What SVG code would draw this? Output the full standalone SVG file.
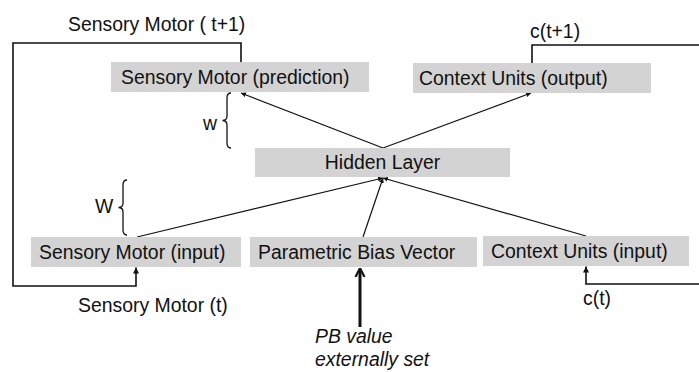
<svg xmlns="http://www.w3.org/2000/svg" width="699" height="372" viewBox="0 0 699 372">
  <style>
    .box { fill: #d3d3d3; }
    .lbl { font-family: "Liberation Sans", Arial, sans-serif; font-size: 19.4px; fill: #111; }
    .it { font-style: italic; }
    .ln { fill: none; stroke: #111; stroke-width: 1.2; }
    .loop { fill: none; stroke: #111; stroke-width: 1.6; }
    .brace { fill: none; stroke: #111; stroke-width: 1.3; }
  </style>
  <defs>
    <marker id="tip" viewBox="0 0 10 10" refX="10" refY="5" markerWidth="5" markerHeight="5" orient="auto" markerUnits="userSpaceOnUse">
      <path d="M0,0 L10,5 L0,10 z" fill="#111"/>
    </marker>
    <marker id="tipLoop" viewBox="0 0 10 10" refX="10" refY="5" markerWidth="7" markerHeight="6" orient="auto" markerUnits="userSpaceOnUse">
      <path d="M0,0 L10,5 L0,10 z" fill="#111"/>
    </marker>
    <marker id="tipBold" viewBox="0 0 10 10" refX="9" refY="5" markerWidth="9" markerHeight="13" orient="auto" markerUnits="userSpaceOnUse">
      <path d="M0,0 L10,5 L0,10" fill="none" stroke="#111" stroke-width="2.4"/>
    </marker>
  </defs>

  <!-- connectors -->
  <g id="connectors">
    <!-- hidden layer to output layers -->
    <line class="ln" x1="383" y1="148" x2="241" y2="93" marker-end="url(#tip)"/>
    <line class="ln" x1="383" y1="148" x2="531" y2="93" marker-end="url(#tip)"/>
    <!-- input layers to hidden layer -->
    <line class="ln" x1="137" y1="237" x2="383" y2="178" marker-end="url(#tip)"/>
    <line class="ln" x1="363" y1="237" x2="383" y2="178" marker-end="url(#tip)"/>
    <line class="ln" x1="586" y1="236" x2="383" y2="178" marker-end="url(#tip)"/>
    <!-- sensory motor feedback loop -->
    <polyline class="loop" points="241,62 241,43 13,43 13,286 136,286 136,267.5" marker-end="url(#tipLoop)"/>
    <!-- context feedback loop -->
    <polyline class="loop" points="532,63 532,45 699,45"/>
    <polyline class="loop" points="699,284 586,284 586,266.5" marker-end="url(#tipLoop)"/>
    <!-- externally set PB value -->
    <line x1="360" y1="327" x2="360" y2="269" stroke="#111" stroke-width="3" marker-end="url(#tipBold)"/>
  </g>

  <!-- weight braces -->
  <g id="brace-w">
    <path class="brace" d="M231,93 Q227,93 227,98 L227,116 Q227,120.5 222.5,120.5 Q227,120.5 227,125 L227,143 Q227,148 231,148"/>
    <text class="lbl" x="203" y="130">w</text>
  </g>
  <g id="brace-W">
    <path class="brace" d="M127,180 Q123,180 123,185 L123,203 Q123,207.5 118.5,207.5 Q123,207.5 123,212 L123,230 Q123,235 127,235"/>
    <text class="lbl" x="95" y="213">W</text>
  </g>

  <g id="sm-prediction">
    <rect class="box" x="111" y="62" width="258" height="30"/>
    <text class="lbl" x="121" y="83.5">Sensory Motor (prediction)</text>
  </g>
  <g id="ctx-output">
    <rect class="box" x="413" y="63" width="238" height="30"/>
    <text class="lbl" x="419" y="84.5">Context Units (output)</text>
  </g>
  <g id="hidden">
    <rect class="box" x="255" y="148" width="255" height="29"/>
    <text class="lbl" x="382.5" y="169" text-anchor="middle">Hidden Layer</text>
  </g>
  <g id="sm-input">
    <rect class="box" x="31" y="237" width="210" height="30"/>
    <text class="lbl" x="39" y="258.5">Sensory Motor (input)</text>
  </g>
  <g id="pb-vector">
    <rect class="box" x="250" y="237" width="227" height="30"/>
    <text class="lbl" x="258" y="258.5">Parametric Bias Vector</text>
  </g>
  <g id="ctx-input">
    <rect class="box" x="483" y="236" width="206" height="30"/>
    <text class="lbl" x="491" y="257.5">Context Units (input)</text>
  </g>

  <!-- loop labels -->
  <text class="lbl" x="68" y="31">Sensory Motor ( t+1)</text>
  <text class="lbl" x="530" y="38">c(t+1)</text>
  <text class="lbl" x="78" y="312">Sensory Motor (t)</text>
  <text class="lbl" x="583" y="305">c(t)</text>
  <text class="lbl it" x="315" y="343">PB value</text>
  <text class="lbl it" x="315" y="366">externally set</text>
</svg>
